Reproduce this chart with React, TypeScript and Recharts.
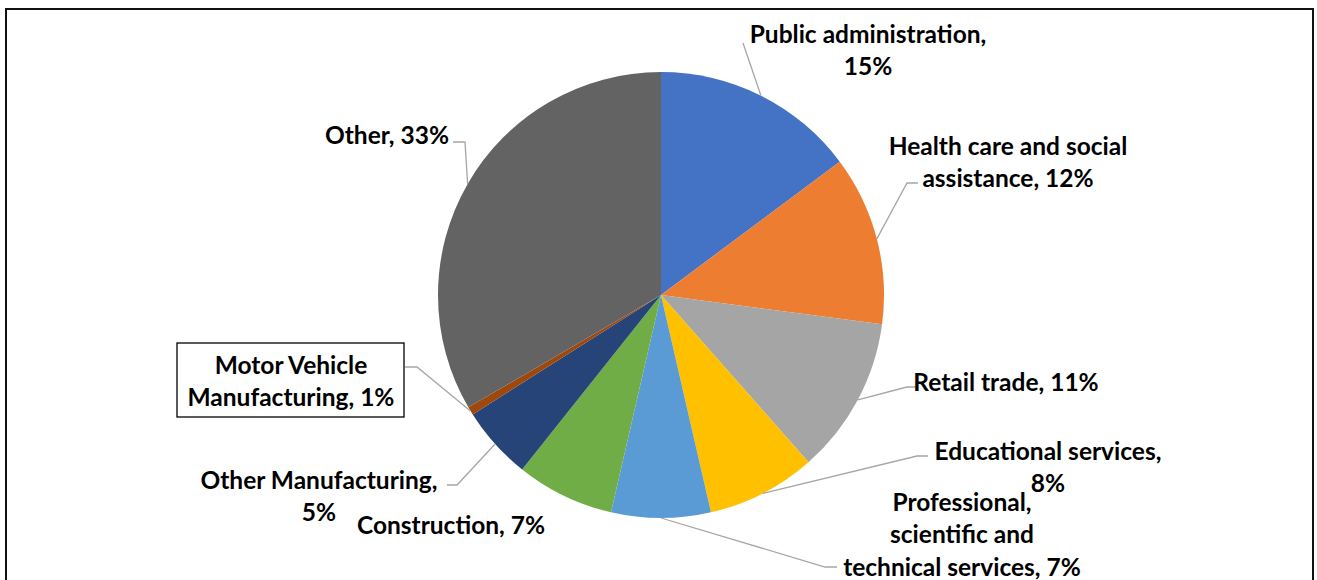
import { PieChart, Pie, Cell } from 'recharts';

const W = 1317;
const H = 580;

const INDUSTRIES = [
  'Public administration',
  'Health care and social assistance',
  'Retail trade',
  'Educational services',
  'Professional, scientific and technical services',
  'Construction',
  'Other Manufacturing',
  'Motor Vehicle Manufacturing',
  'Other',
];
const SHARES = [14.8, 12.3, 11.4, 7.9, 7.2, 7.1, 5.3, 0.6, 33.4];
const COLORS = ['#4472C4', '#ED7D31', '#A5A5A5', '#FFC000', '#5B9BD5', '#70AD47', '#264478', '#9E480E', '#636363'];

// how the label text is broken into lines (percent appended to the last one)
const LABEL_LINES = [
  ['Public administration,', ''],
  ['Health care and social', 'assistance, '],
  ['Retail trade, '],
  ['Educational services,', ''],
  ['Professional,', 'scientific and', 'technical services, '],
  ['Construction, '],
  ['Other Manufacturing,', ''],
  ['Motor Vehicle', 'Manufacturing, '],
  ['Other, '],
];

const data = INDUSTRIES.map((name, i) => ({ name, value: SHARES[i], idx: i }));

// label placement: x = text center, y = first line center, end/elbow = leader line
type Layout = { x: number; y: number; end?: [number, number]; elbow?: [number, number]; box?: boolean };
const LAYOUT: Layout[] = [
  { x: 868, y: 33, end: [743, 43] },
  { x: 1008, y: 145, end: [918, 183], elbow: [907, 183] },
  { x: 1006, y: 381, end: [918, 387], elbow: [907, 387] },
  { x: 1048, y: 450, end: [928, 456], elbow: [917, 456] },
  { x: 962, y: 501, end: [837, 567], elbow: [825, 567] },
  { x: 451, y: 524 },
  { x: 319, y: 479, end: [447, 485], elbow: [457, 485] },
  { x: 291, y: 364, end: [405, 367], elbow: [417, 367], box: true },
  { x: 387, y: 134, end: [453, 142], elbow: [465, 142] },
];

const LINE_H = 32.5;
const RAD = Math.PI / 180;

const renderLabel = (props: any) => {
  const { cx, cy, midAngle, outerRadius, value } = props;
  const i = props.payload?.idx ?? props.index;
  const lay = LAYOUT[i];
  const lines = LABEL_LINES[i].slice();
  lines[lines.length - 1] = lines[lines.length - 1] + Math.round(value) + '%';
  const ex = cx + outerRadius * Math.cos(-midAngle * RAD);
  const ey = cy + outerRadius * Math.sin(-midAngle * RAD);
  let leader = null;
  if (lay.end) {
    const pts = [lay.end, ...(lay.elbow ? [lay.elbow] : []), [ex, ey]];
    leader = (
      <polyline
        points={pts.map((p) => p.join(',')).join(' ')}
        fill="none"
        stroke="#A6A6A6"
        strokeWidth={1.3}
      />
    );
  }
  return (
    <g key={`lbl-${i}`}>
      {leader}
      {lay.box && (
        <rect x={177} y={343} width={227} height={74} fill="#fff" stroke="#000" strokeWidth={1.3} />
      )}
      {lines.map((t, k) => (
        <text
          key={k}
          x={lay.x}
          y={lay.y + k * LINE_H}
          textAnchor="middle"
          dominantBaseline="central"
          fontFamily="Lato, 'Open Sans', sans-serif"
          fontWeight="bold"
          fontSize={24.5}
          fill="#000"
        >
          {t}
        </text>
      ))}
    </g>
  );
};

export default function App() {
  return (
    <div style={{ position: 'absolute', left: 0, top: 0, width: W, height: H, background: '#fff', overflow: 'hidden' }}>
      <div
        style={{
          position: 'absolute',
          left: 5,
          top: 8,
          width: 1309,
          height: 600,
          border: '2px solid #111',
          boxSizing: 'border-box',
        }}
      />
      <div style={{ position: 'absolute', left: 0, top: 0 }}>
        <PieChart width={W} height={H} margin={{ top: 0, right: 0, bottom: 0, left: 0 }}>
          <Pie
            data={data}
            dataKey="value"
            nameKey="name"
            cx={661}
            cy={295}
            outerRadius={223}
            startAngle={90}
            endAngle={-270}
            stroke="none"
            label={renderLabel}
            labelLine={false}
            isAnimationActive={false}
          >
            {data.map((_, index) => (
              <Cell key={`cell-${index}`} fill={COLORS[index % COLORS.length]} />
            ))}
          </Pie>
        </PieChart>
      </div>
    </div>
  );
}
